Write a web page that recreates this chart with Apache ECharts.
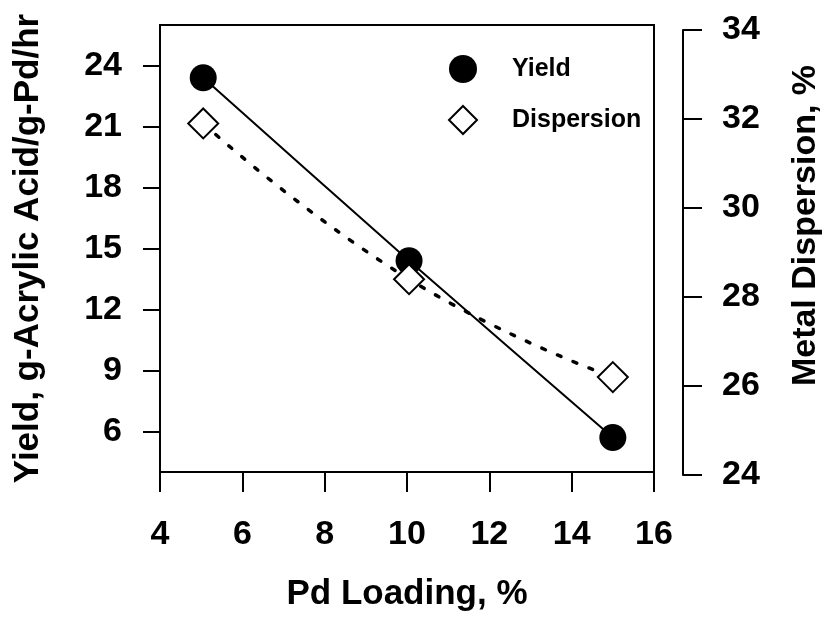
<!DOCTYPE html>
<html>
<head>
<meta charset="utf-8">
<script src="https://cdn.jsdelivr.net/npm/echarts@6/dist/echarts.min.js"></script>
<style>
html,body{margin:0;padding:0;background:#fff;}
#chart{width:832px;height:620px;}
</style>
</head>
<body>
<div id="chart"></div>
<script>
// Data
var pdLoading = [5.05, 10.05, 15];
var yieldValues = [23.4, 14.4, 5.7];
var dispersionValues = [31.9, 28.4, 26.2];
var leftTicks = [6, 9, 12, 15, 18, 21, 24];
var rightTicks = [24, 26, 28, 30, 32, 34];
var xTicks = [4, 6, 8, 10, 12, 14, 16];

var FONT = 'Liberation Sans, Arial, sans-serif';
var chart = echarts.init(document.getElementById('chart'), null, {renderer: 'canvas'});

function pairs(xs, ys) { return xs.map(function (x, i) { return [x, ys[i]]; }); }

var labelStyle = {color: '#000', fontFamily: FONT, fontWeight: 'bold', fontSize: 34};
var nameStyle = {color: '#000', fontFamily: FONT, fontWeight: 'bold', fontSize: 35};

var option = {
  backgroundColor: '#fff',
  animation: false,
  grid: [
    {left: 160, right: 178, top: 25, bottom: 148, show: true, borderColor: '#000', borderWidth: 2, backgroundColor: 'transparent'},
    {left: 160, right: 178, top: 30, bottom: 145, show: false}
  ],
  legend: {
    orient: 'vertical',
    left: 443,
    top: 50,
    itemWidth: 28,
    itemHeight: 28,
    itemGap: 22,
    data: [
      {name: 'Yield', icon: 'circle'},
      {name: 'Dispersion', icon: 'diamond'}
    ],
    textStyle: {color: '#000', fontFamily: FONT, fontWeight: 'bold', fontSize: 25, padding: [0, 0, 0, 30]}
  },
  xAxis: [
    {
      gridIndex: 0, type: 'value', min: 4, max: 16, interval: 2,
      name: 'Pd Loading, %', nameLocation: 'middle', nameGap: 105, nameTextStyle: nameStyle,
      axisLine: {show: true, lineStyle: {color: '#000', width: 2}},
      axisTick: {show: true, inside: false, length: 20, lineStyle: {color: '#000', width: 2}, customValues: xTicks},
      axisLabel: Object.assign({margin: 46, customValues: xTicks}, labelStyle),
      splitLine: {show: false}
    },
    {
      gridIndex: 1, type: 'value', min: 4, max: 16, show: false
    }
  ],
  yAxis: [
    {
      gridIndex: 0, type: 'value', position: 'left', min: 4, max: 26,
      name: 'Yield, g-Acrylic Acid/g-Pd/hr', nameLocation: 'middle', nameGap: 114, nameRotate: 90, nameTextStyle: nameStyle,
      axisLine: {show: true, lineStyle: {color: '#000', width: 2}},
      axisTick: {show: true, length: 17, lineStyle: {color: '#000', width: 2}, customValues: leftTicks},
      axisLabel: Object.assign({margin: 38, customValues: leftTicks}, labelStyle),
      splitLine: {show: false}
    },
    {
      gridIndex: 1, type: 'value', position: 'right', offset: 29, min: 24, max: 34,
      name: 'Metal Dispersion, %', nameLocation: 'middle', nameGap: 106, nameRotate: 90,
      nameTextStyle: Object.assign({padding: [0, 0, 0, 54]}, nameStyle, {fontSize: 34}),
      axisLine: {show: true, lineStyle: {color: '#000', width: 2}},
      axisTick: {show: true, length: 19, lineStyle: {color: '#000', width: 2}, customValues: rightTicks},
      axisLabel: Object.assign({margin: 39, customValues: rightTicks}, labelStyle),
      splitLine: {show: false}
    }
  ],
  series: [
    {
      name: 'Yield', type: 'line', xAxisIndex: 0, yAxisIndex: 0,
      data: pairs(pdLoading, yieldValues),
      smooth: 0.15,
      symbol: 'circle', symbolSize: 27,
      itemStyle: {color: '#000', borderColor: '#000', borderWidth: 0},
      lineStyle: {color: '#000', width: 2, type: 'solid'},
      z: 3
    },
    {
      name: 'Dispersion', type: 'line', xAxisIndex: 1, yAxisIndex: 1,
      data: pairs(pdLoading, dispersionValues),
      smooth: true,
      symbol: 'diamond', symbolSize: 30,
      itemStyle: {color: '#fff', borderColor: '#000', borderWidth: 2},
      lineStyle: {color: '#000', width: 3.5, type: [4, 13], cap: 'round'},
      z: 4
    }
  ]
};
chart.setOption(option);
</script>
</body>
</html>
